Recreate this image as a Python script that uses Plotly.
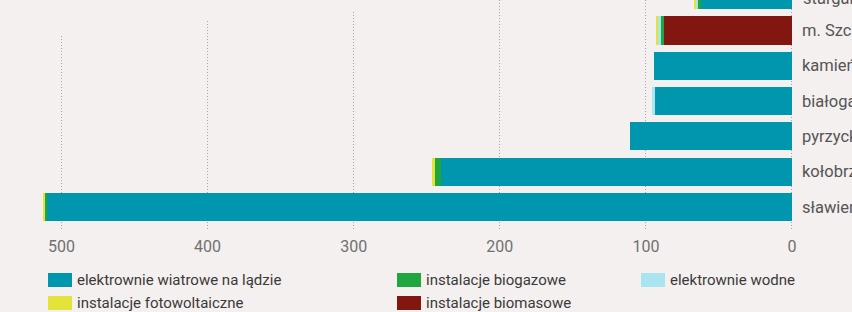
import plotly.graph_objects as go

# ---- data (bottom to top) ----
categories = ["sławieński", "kołobrzeski", "pyrzycki", "białogardzki", "kamieński", "m. Szczecin", "stargardzki"]
wind =    [509.7, 240.2, 110.9, 93.8, 94.5, 0.0, 62.3]
biomass = [0.0,   0.0,   0.0,   0.0,  0.0,  87.6, 0.0]
biogas =  [1.8,   4.3,   0.0,   0.0,  0.0,  2.1,  2.1]
hydro =   [0.0,   0.0,   0.0,   2.1,  0.0,  2.1,  1.2]
pv =      [1.4,   1.8,   0.0,   0.0,  0.0,  1.4,  1.8]

series_names = ["elektrownie wiatrowe na lądzie", "instalacje biomasowe", "instalacje biogazowe",
                "elektrownie wodne", "instalacje fotowoltaiczne"]
series_values = [wind, biomass, biogas, hydro, pv]
series_colors = ["#0096ad", "#821712", "#1fa63e", "#a9e5ee", "#e3e33b"]

x_ticks = [0, 100, 200, 300, 400, 500]

BG = "#f4f0ef"
FONT = "Roboto, sans-serif"

W, H = 852, 312
ML, MR, MT, MB = 0, 59, 0, 81
PW, PH = W - ML - MR, H - MT - MB
XR = [542.1, -0.7]
YR = [-0.68, 5.86]

def px_x(X):
    return (X - ML) / PW

def px_y(Y):
    return (H - MB - Y) / PH

def dx(X):
    return XR[0] + px_x(X) * (XR[1] - XR[0])

def dy(Y):
    return YR[0] + px_y(Y) * (YR[1] - YR[0])

fig = go.Figure()
for name, vals, col in zip(series_names, series_values, series_colors):
    fig.add_trace(go.Bar(
        y=categories, x=vals, name=name, orientation="h",
        marker=dict(color=col, line=dict(width=0)),
        showlegend=False, hoverinfo="x+y+name",
    ))

# manual legend (3 columns, row-major order)
legend_order = [0, 2, 3, 4, 1]
col_x = [48, 397, 641]
row_y = [280, 303]
shapes = []
annotations = []
for k, idx in enumerate(legend_order):
    cx = col_x[k % 3]
    ry = row_y[k // 3]
    shapes.append(dict(type="rect", xref="paper", yref="paper",
                       x0=px_x(cx), x1=px_x(cx + 24), y0=px_y(ry + 7), y1=px_y(ry - 7),
                       fillcolor=series_colors[idx], line=dict(width=0), layer="above"))
    annotations.append(dict(xref="paper", yref="paper", x=px_x(cx + 27), y=px_y(ry),
                            xanchor="left", yanchor="middle", showarrow=False,
                            text=series_names[idx],
                            font=dict(family=FONT, size=15, color="#3a3a3a")))

# occluders over the upper grid (title box area of the original)
for x0, x1, ybot in [(0, 130, 36), (130, 280, 20), (280, 430, 12)]:
    shapes.append(dict(type="rect", xref="x", yref="y",
                       x0=dx(x0), x1=dx(x1), y0=dy(ybot), y1=dy(-2),
                       fillcolor=BG, line=dict(width=0), layer="between"))

# partially visible top category label
annotations.append(dict(xref="paper", yref="paper", x=1.0, y=px_y(-1.5),
                        xanchor="left", yanchor="middle", xshift=8, showarrow=False,
                        text=categories[-1],
                        font=dict(family=FONT, size=16.5, color="#555555")))

fig.update_layout(
    width=W, height=H,
    margin=dict(l=ML, r=MR, t=MT, b=MB, pad=0, autoexpand=False),
    paper_bgcolor=BG, plot_bgcolor=BG,
    barmode="stack", bargap=0.2, hovermode=False,
    shapes=shapes, annotations=annotations,
    xaxis=dict(range=XR, tickvals=x_ticks, ticktext=[str(v) for v in x_ticks],
               showgrid=True, gridcolor="#a5a5a5", griddash="1px,2px", gridwidth=1,
               zeroline=False, showline=False, ticks="", automargin=False,
               tickfont=dict(family=FONT, size=16, color="#707070"),
               ticklabelstandoff=4),
    yaxis=dict(side="right", range=YR, type="category",
               categoryorder="array", categoryarray=categories,
               showgrid=False, zeroline=False, showline=False, ticks="", automargin=False,
               tickfont=dict(family=FONT, size=16.5, color="#555555"),
               ticklabelstandoff=8),
)

fig.write_html(
    "out.html",
    config={"displayModeBar": False, "staticPlot": True},
    post_script="document.body.style.margin='0';document.body.style.background='" + BG + "';"
                "document.body.style.overflow='hidden';",
)
